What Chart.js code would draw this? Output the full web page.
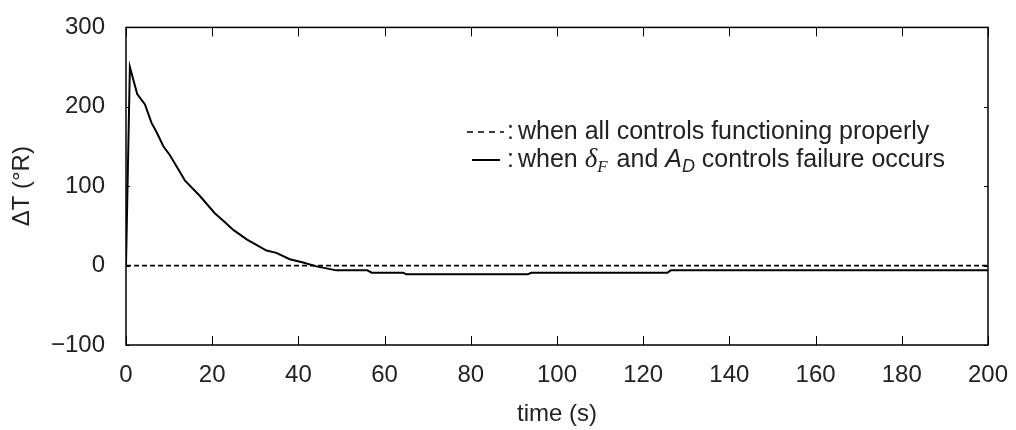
<!DOCTYPE html>
<html>
<head>
<meta charset="utf-8">
<script src="https://cdn.jsdelivr.net/npm/chart.js@4/dist/chart.umd.min.js"></script>
<style>
  html, body { margin: 0; padding: 0; background: #fff; }
  #wrap { width: 1016px; height: 430px; }
</style>
</head>
<body>
<div id="wrap"><canvas id="tempChart" width="1016" height="430"></canvas></div>
<script>
// time (s) and temperature difference (deg R)
const timeFailure = [0, 0.9, 2.6, 4.4, 5.9, 7.1, 8.7, 10.2, 13.7, 17.1, 20.6, 22.9, 24.9, 28.0, 32.6, 34.9, 38.0, 41.1, 44.2, 48.8, 56.0, 57.0, 64.3, 65.1, 93.2, 94.0, 125.6, 126.4, 200];
const deltaFailure = [0, 250, 216, 203, 180, 168, 150, 139, 107, 88, 66, 55, 45, 33, 19, 16, 8, 4, -1, -6, -6, -9, -9, -11, -11, -9, -9, -6, -6];
const timeNominal = [0, 200];
const deltaNominal = [0, 0];

const xTicks = [0, 20, 40, 60, 80, 100, 120, 140, 160, 180, 200];
const yTicks = [-100, 0, 100, 200, 300];

const FONT = 'Liberation Sans, Arial, Helvetica, sans-serif';

function toPoints(xs, ys) {
    return xs.map((x, i) => ({ x: x, y: ys[i] }));
}

// frame with inward ticks on all four sides
const framePlugin = {
    id: 'frame',
    afterDraw(chart) {
        const ctx = chart.ctx;
        const a = chart.chartArea;
        const xs = chart.scales.x;
        const ys = chart.scales.y;
        ctx.save();
        ctx.strokeStyle = '#000';
        ctx.lineWidth = 1.5;
        ctx.strokeRect(a.left, a.top, a.right - a.left, a.bottom - a.top);
        ctx.lineWidth = 1;
        ctx.beginPath();
        xTicks.forEach(v => {
            const px = Math.round(xs.getPixelForValue(v)) + 0.5;
            ctx.moveTo(px, a.bottom); ctx.lineTo(px, a.bottom - 9);
            ctx.moveTo(px, a.top); ctx.lineTo(px, a.top + 9);
        });
        yTicks.forEach(v => {
            const py = Math.round(ys.getPixelForValue(v)) + 0.5;
            ctx.moveTo(a.left, py); ctx.lineTo(a.left + 4, py);
            ctx.moveTo(a.right, py); ctx.lineTo(a.right - 4, py);
        });
        ctx.stroke();
        ctx.restore();
    }
};

// legend with math symbols drawn as text runs
const legendPlugin = {
    id: 'mathLegend',
    afterDraw(chart) {
        const ctx = chart.ctx;
        ctx.save();
        ctx.fillStyle = '#222';
        ctx.strokeStyle = '#000';
        ctx.textBaseline = 'alphabetic';
        ctx.textAlign = 'left';

        const y1 = 139, y2 = 167;
        // dashed sample
        ctx.lineWidth = 1.5;
        ctx.setLineDash([6, 5]);
        ctx.beginPath(); ctx.moveTo(467, y1 - 7); ctx.lineTo(504, y1 - 7); ctx.stroke();
        ctx.setLineDash([]);
        ctx.lineWidth = 2;
        ctx.beginPath(); ctx.moveTo(472, y2 - 7); ctx.lineTo(500, y2 - 7); ctx.stroke();

        ctx.font = '25px ' + FONT;
        ctx.fillText(':', 507, y1);
        ctx.fillText(':', 507, y2);
        ctx.fillText('when all controls functioning properly', 518, y1);

        let x = 518;
        const run = (txt, font, dy) => {
            ctx.font = font;
            ctx.fillText(txt, x, y2 + (dy || 0));
            x += ctx.measureText(txt).width;
        };
        run('when ', '25px ' + FONT);
        run('\u03b4', 'italic 27px Liberation Serif, serif');
        run('F', 'italic 17px Liberation Serif, serif', 5);
        x += 2;
        run(' and ', '25px ' + FONT);
        run('A', 'italic 25px ' + FONT);
        run('D', 'italic 18px ' + FONT, 5);
        run(' controls failure occurs', '25px ' + FONT);
        ctx.restore();
    }
};

new Chart(document.getElementById('tempChart').getContext('2d'), {
    type: 'line',
    data: {
        datasets: [
            {
                label: 'when all controls functioning properly',
                data: toPoints(timeNominal, deltaNominal),
                borderColor: '#000',
                borderWidth: 1.6,
                borderDash: [5, 3],
                pointRadius: 0,
                tension: 0
            },
            {
                label: 'when dF and AD controls failure occurs',
                data: toPoints(timeFailure, deltaFailure),
                borderColor: '#000',
                borderWidth: 2,
                pointRadius: 0,
                tension: 0
            }
        ]
    },
    options: {
        responsive: false,
        animation: false,
        layout: { padding: { left: 0, top: 21, right: 27, bottom: 0 } },
        plugins: {
            legend: { display: false },
            tooltip: { enabled: false }
        },
        scales: {
            x: {
                type: 'linear',
                min: 0,
                max: 200,
                afterFit(scale) { scale.height = 85; },
                afterBuildTicks(scale) { scale.ticks = xTicks.map(v => ({ value: v })); },
                grid: { display: false },
                border: { display: false },
                ticks: {
                    color: '#222',
                    padding: 8,
                    maxRotation: 0,
                    font: { family: FONT, size: 24 }
                },
                title: {
                    display: true,
                    text: 'time (s)',
                    color: '#222',
                    padding: { top: 0, bottom: 1 },
                    font: { family: FONT, size: 24 }
                }
            },
            y: {
                min: -100,
                max: 300,
                afterFit(scale) { scale.width = 126; },
                afterBuildTicks(scale) { scale.ticks = yTicks.map(v => ({ value: v })); },
                grid: { display: false },
                border: { display: false },
                ticks: {
                    color: '#222',
                    padding: 13,
                    font: { family: FONT, size: 24 },
                    callback: v => (v < 0 ? '\u2212' + Math.abs(v) : String(v))
                },
                title: {
                    display: true,
                    text: '\u0394T (\u00b0R)',
                    color: '#222',
                    padding: { top: 8, bottom: 0 },
                    font: { family: FONT, size: 24 }
                }
            }
        }
    },
    plugins: [framePlugin, legendPlugin]
});
</script>
</body>
</html>
